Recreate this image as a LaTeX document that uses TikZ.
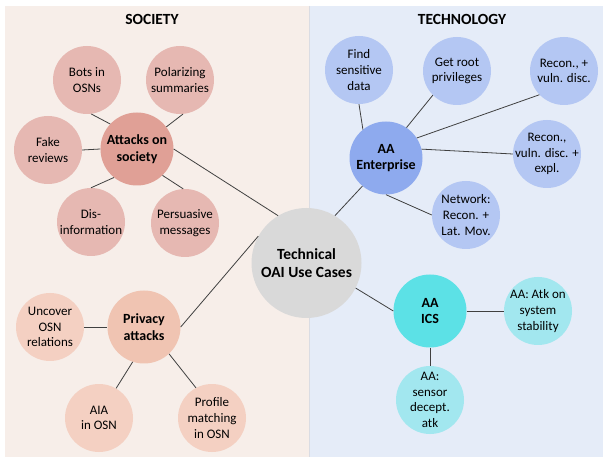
\documentclass[tikz,border=0pt]{standalone}
\usepackage{fontspec}
\setmainfont{Carlito}
\usepackage{tikz}
\definecolor{socbg}{HTML}{F7EEE9}
\definecolor{techbg}{HTML}{E5ECF8}
\definecolor{sepline}{HTML}{DADCE3}
\definecolor{edge}{HTML}{404040}
\definecolor{hub}{HTML}{D9D9D9}
\definecolor{socmid}{HTML}{E0A096}
\definecolor{socleaf}{HTML}{E6B8B2}
\definecolor{privmid}{HTML}{F0C4B2}
\definecolor{privleaf}{HTML}{F4D0C2}
\definecolor{entmid}{HTML}{8EAAEE}
\definecolor{entleaf}{HTML}{B4C7F3}
\definecolor{icsmid}{HTML}{5CE1E6}
\definecolor{icsleaf}{HTML}{A2E7EF}
\tikzset{
  link/.style={draw=edge, line width=0.8pt},
  bubble/.style={circle, inner sep=-6pt, align=center, text=black},
  leaf/.style={bubble, minimum size=68pt, font=\fontsize{13}{15.7}\selectfont},
  mid/.style={bubble, minimum size=73pt, font=\bfseries\fontsize{14}{16.7}\selectfont},
  hubnode/.style={bubble, fill=hub, minimum size=110pt, font=\bfseries\fontsize{15.5}{17.7}\selectfont},
  title/.style={font=\bfseries\fontsize{15.5}{18}\selectfont}
}

\begin{document}
\begin{tikzpicture}[x=1pt, y=-1pt]
  \useasboundingbox (0,0) rectangle (603,457);
  \fill[socbg] (5,6) rectangle (309,457);
  \fill[techbg] (309,6) rectangle (603,457);
  \draw[sepline, line width=0.8pt] (309,6) -- (309,457);

  \node[title] (soc) at (152,19) {SOCIETY};
  \node[title] (tech) at (462,19) {TECHNOLOGY};

  % hub
  \node[hubnode] (oai) at (306.5,263) {Technical\\OAI Use Cases};

  % society
  \node[mid, fill=socmid] (atk) at (137,149) {Attacks on\\society};
  \node[leaf, fill=socleaf] (bots) at (87,80) {Bots in\\OSNs};
  \node[leaf, fill=socleaf] (pol) at (180,80) {Polarizing\\summaries};
  \node[leaf, fill=socleaf] (fake) at (48,150) {Fake\\reviews};
  \node[leaf, fill=socleaf] (dis) at (91,222) {Dis-\\information};
  \node[leaf, fill=socleaf] (pers) at (185,223) {Persuasive\\messages};

  \node[mid, fill=privmid] (priv) at (144,327) {Privacy\\attacks};
  \node[leaf, fill=privleaf] (unc) at (50,327) {Uncover\\OSN\\relations};
  \node[leaf, fill=privleaf] (aia) at (99,418) {AIA\\in OSN};
  \node[leaf, fill=privleaf] (prof) at (212,418) {Profile\\matching\\in OSN};

  % technology
  \node[mid, fill=entmid] (ent) at (386,158) {AA\\Enterprise};
  \node[leaf, fill=entleaf] (find) at (359,70) {Find\\sensitive\\data};
  \node[leaf, fill=entleaf] (root) at (457,71) {Get root\\privileges};
  \node[leaf, fill=entleaf] (reca) at (564,71) {Recon., +\\vuln. disc.};
  \node[leaf, fill=entleaf] (recb) at (547,154) {Recon.,\\vuln. disc. +\\expl.};
  \node[leaf, fill=entleaf] (net) at (466,215) {Network:\\Recon. +\\Lat. Mov.};

  \node[mid, fill=icsmid] (ics) at (430,311) {AA\\ICS};
  \node[leaf, fill=icsleaf] (stab) at (538,311) {AA: Atk on\\system\\stability};
  \node[leaf, fill=icsleaf] (sens) at (430,400) {AA:\\sensor\\decept.\\atk};

  % links
  \draw[link] (atk.east) -- (oai.121);
  \draw[link] (priv.east) -- (oai.151);
  \draw[link] (ent.230) -- (oai.59);
  \draw[link] (ics.west) -- (oai.-27);

  \draw[link] (bots.-83) -- (atk.137);
  \draw[link] (pol.-85) -- (atk.37);
  \draw[link] (fake.east) -- (atk.west);
  \draw[link] (dis.north) -- (atk.231);
  \draw[link] (pers.93) -- (atk.314);

  \draw[link] (unc.east) -- (priv.west);
  \draw[link] (aia.60) -- (priv.252);
  \draw[link] (prof.118) -- (priv.313);

  \draw[link] (find.south) -- (ent.129);
  \draw[link] (root.225) -- (ent.56);
  \draw[link] (reca.224) -- (ent.33);
  \draw[link] (recb.west) -- (ent.14);
  \draw[link] (net.west) -- (ent.south);

  \draw[link] (ics.east) -- (stab.west);
  \draw[link] (ics.south) -- (sens.north);
\end{tikzpicture}
\end{document}
